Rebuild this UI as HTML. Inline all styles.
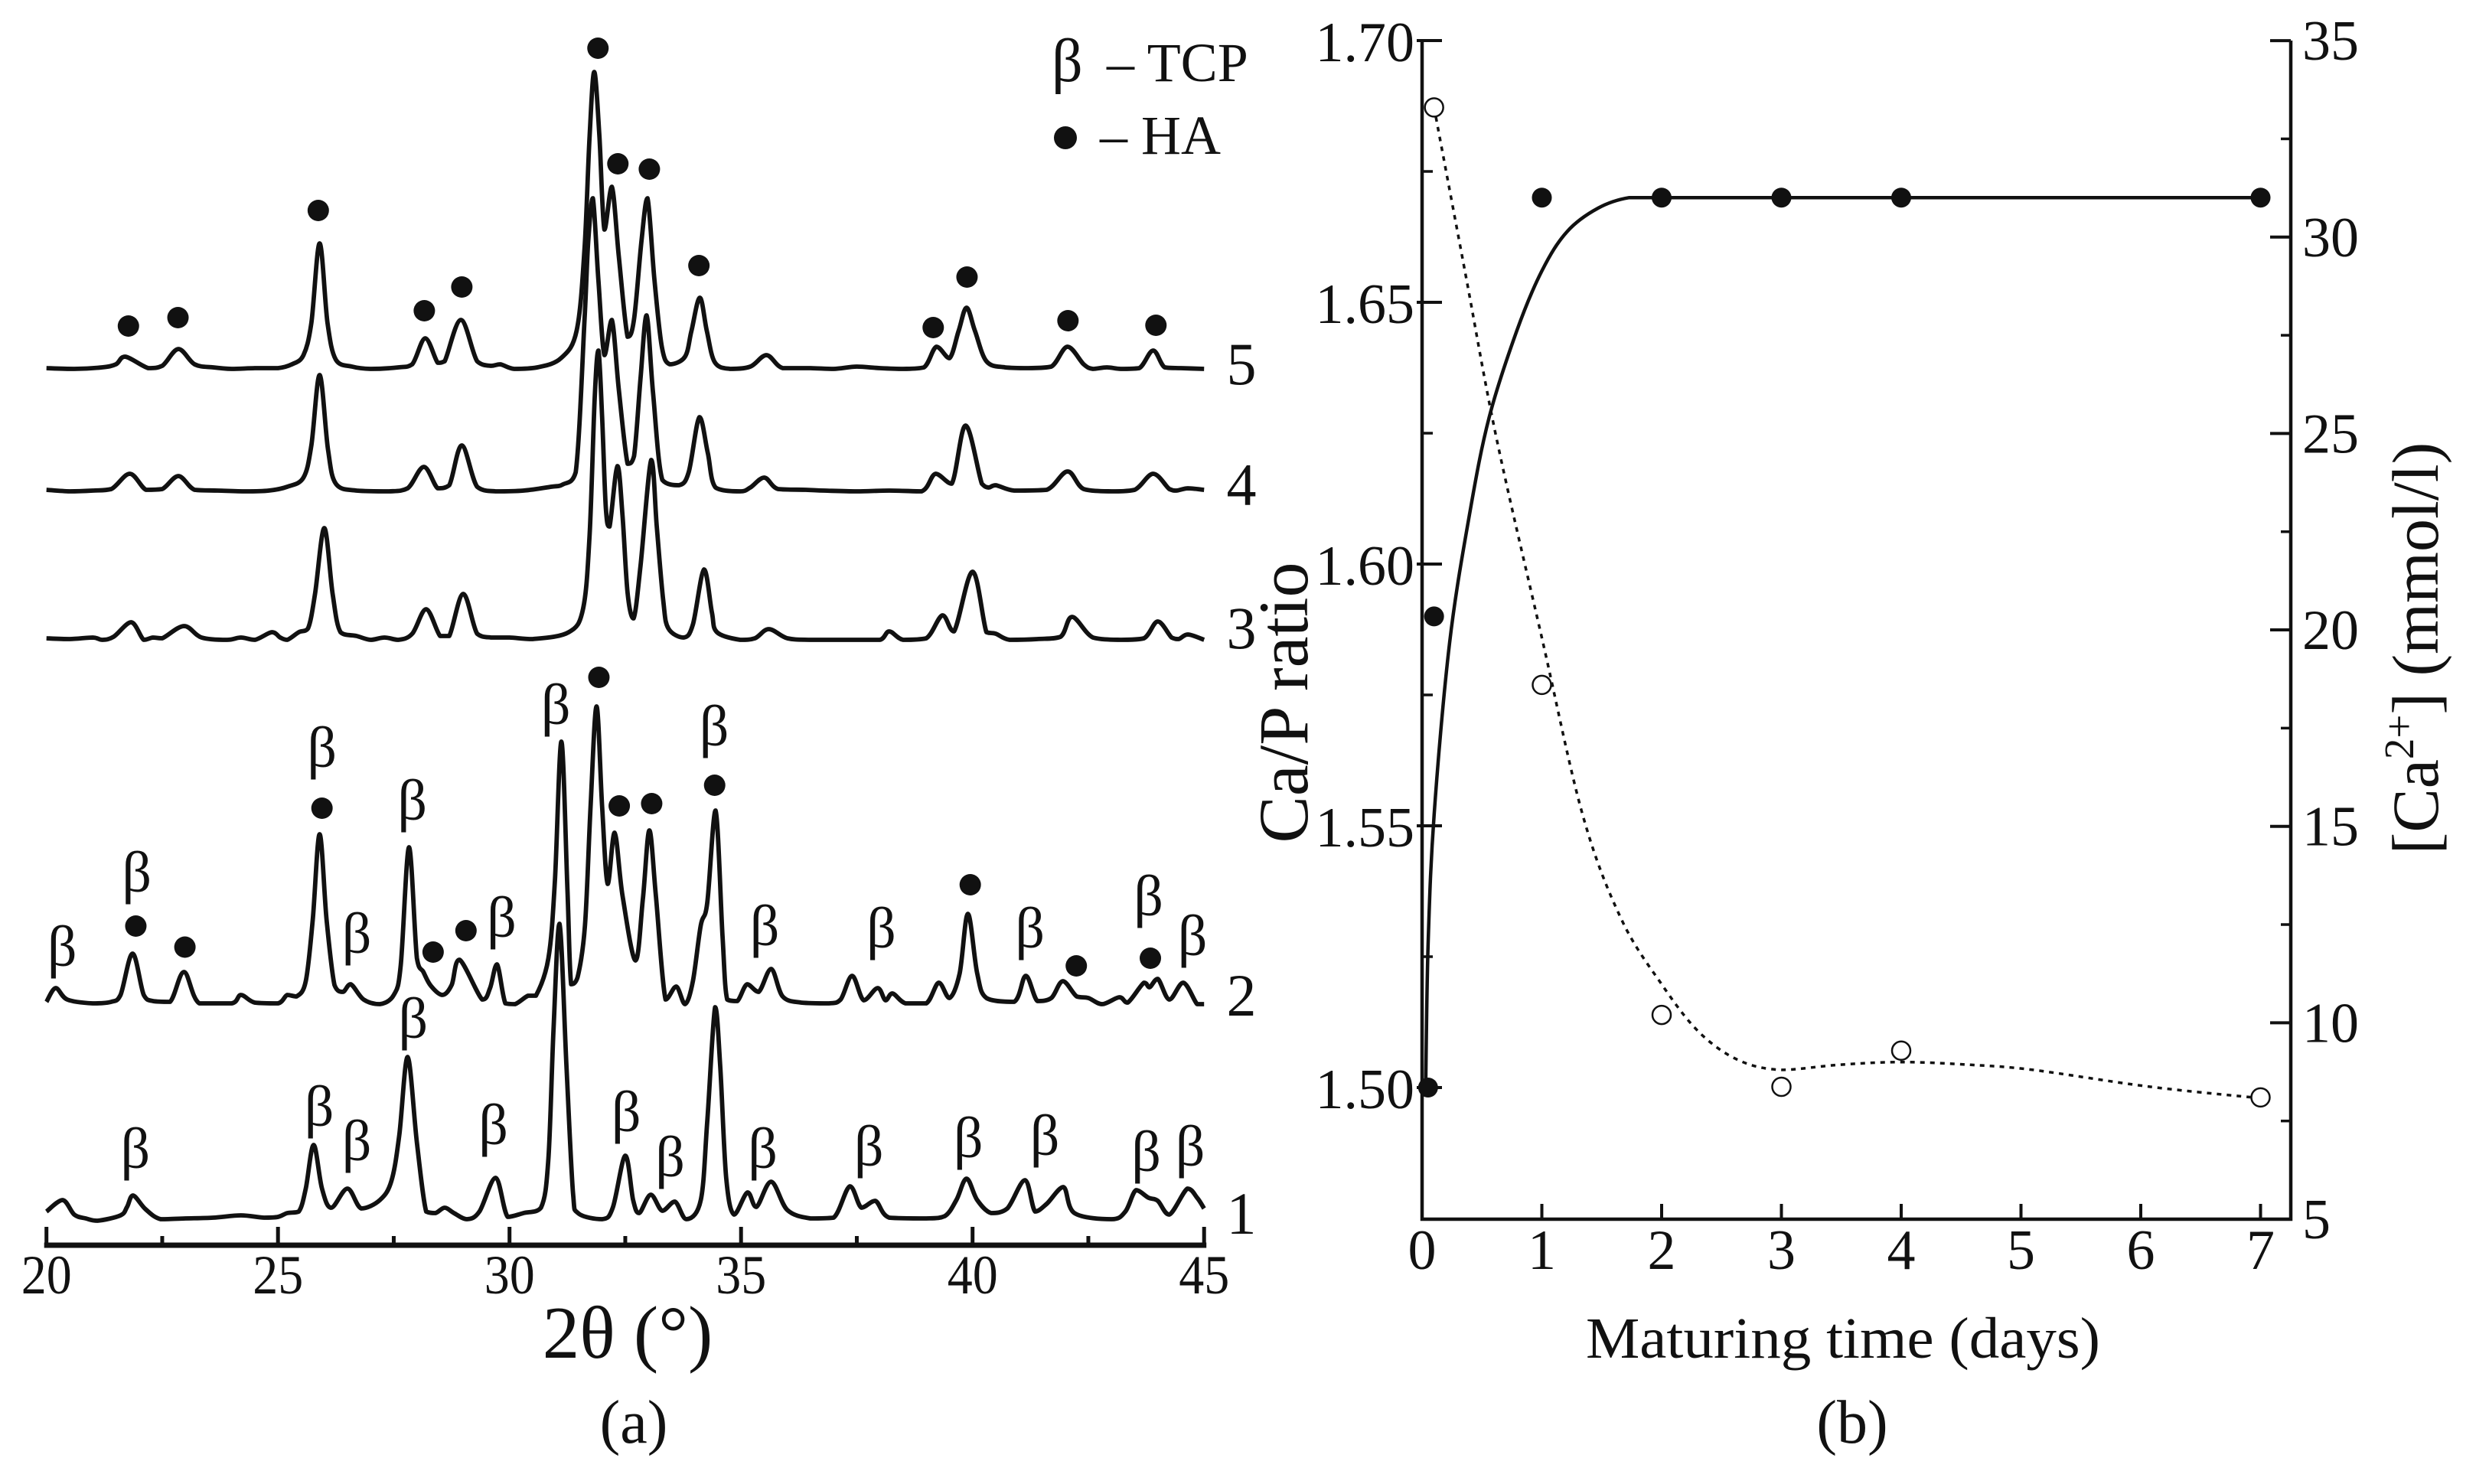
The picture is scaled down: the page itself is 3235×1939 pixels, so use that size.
<!DOCTYPE html>
<html lang="en">
<head>
<meta charset="utf-8">
<title>XRD patterns and Ca/P ratio versus maturing time</title>
<style>
html,body{margin:0;padding:0;background:#fff;width:3235px;height:1939px;overflow:hidden}
svg{display:block}
text{font-family:"Liberation Serif",serif;fill:#111}
</style>
</head>
<body>
<svg id="figure" xmlns="http://www.w3.org/2000/svg" width="3235" height="1939" viewBox="0 0 3235 1939">
  <rect width="3235" height="1939" fill="#fff"/>
  <g id="panelA"></g>
  <g id="panelB"></g>

  <text x="820" y="1774" font-size="97" text-anchor="middle">2θ (°)</text>
  <text x="828" y="1885" font-size="80" text-anchor="middle">(a)</text>
  <text x="2420" y="1885" font-size="80" text-anchor="middle">(b)</text>

  <text x="1374" y="106" font-size="80">β</text>
  <text x="1446" y="106" font-size="72">– TCP</text>
  <circle cx="1392" cy="180" r="15" fill="#111"/>
  <text x="1437" y="201" font-size="72">– HA</text>

  <text x="2408" y="1774" font-size="76" text-anchor="middle" textLength="672" lengthAdjust="spacingAndGlyphs">Maturing time (days)</text>
  <text transform="translate(1708,918) rotate(-90)" font-size="92" text-anchor="middle">Ca/P ratio</text>
  <text transform="translate(3185,847) rotate(-90)" font-size="86" text-anchor="middle">[Ca<tspan font-size="55" dy="-32">2+</tspan><tspan dy="32">] (mmol/l)</tspan></text>
</svg>
<script>
// ---------- Panel (a) data: 2-theta and intensity above each pattern's baseline ----------
const theta1 = [20,20.35,20.6,20.85,21.1,21.6,21.74,21.87,22.14,22.47,23,23.6,24.2,24.7,25,25.2,25.45,25.6,25.77,25.95,26.15,26.5,26.8,27.2,27.45,27.62,27.8,28,28.2,28.4,28.6,28.8,29.08,29.35,29.7,29.96,30.3,30.68,30.84,30.95,31.08,31.23,31.37,31.48,32,32.23,32.5,32.67,32.8,33.05,33.3,33.57,33.82,34.13,34.27,34.44,34.55,34.68,34.85,35.14,35.33,35.65,36,36.5,37,37.35,37.6,37.9,38.2,39,39.4,39.65,39.87,40.1,40.4,40.75,41.13,41.35,41.6,41.96,42.2,43,43.3,43.53,43.8,44,44.25,44.64,44.85,45];
const intensity1 = [10,25,6,1,-2,5,16,31,13,0,1,2,5,2,3,8,10,40,97,40,15,40,14,25,50,110,212,100,10,8,15,8,0,10,54,3,8,15,79,248,386,200,35,8,0,15,83,25,8,32,11,23,0,25,127,277,200,54,6,35,16,49,12,1,2,43,15,24,2,1,4,25,53,25,8,14,51,10,20,42,8,0,10,38,28,24,6,40,28,14];

const theta2 = [20,20.2,20.45,21,21.4,21.6,21.86,22.1,22.3,22.67,22.97,23.3,24,24.2,24.5,25,25.2,25.4,25.6,25.75,25.9,26.05,26.22,26.4,26.57,26.85,27.2,27.5,27.65,27.83,28,28.14,28.3,28.55,28.75,28.92,29.41,29.58,29.73,29.91,30.12,30.4,30.57,30.84,30.98,31.12,31.25,31.33,31.47,31.63,31.75,31.88,32,32.12,32.27,32.44,32.72,32.88,33.02,33.16,33.37,33.6,33.79,33.96,34.13,34.27,34.45,34.6,34.7,34.92,35.13,35.38,35.65,35.9,36.3,36.9,37.15,37.4,37.65,37.95,38.12,38.27,38.55,39,39.27,39.5,39.72,39.9,40.1,40.3,40.9,41.15,41.4,41.7,41.95,42.25,42.5,42.8,43.17,43.35,43.7,43.82,44,44.25,44.55,44.85,45];
const intensity2 = [3,21,6,1,3,12,66,12,4,3,42,1,1,12,2,1,12,10,30,110,222,110,25,16,26,6,0,12,50,205,60,42,24,12,25,58,6,21,52,1,0,11,11,60,161,343,152,26,35,103,258,389,258,157,224,142,57,137,227,142,6,23,0,30,103,132,253,89,6,4,26,16,46,10,2,1,6,37,5,21,5,14,1,1,28,8,40,118,40,8,3,37,4,8,30,10,8,0,9,2,28,22,33,6,28,0,0];

const theta3 = [20,20.5,21,21.2,21.45,21.83,22.1,22.3,22.5,22.97,23.35,23.9,24.2,24.5,24.87,25.05,25.2,25.45,25.65,25.8,26,26.18,26.35,26.7,27,27.3,27.6,27.9,28.2,28.5,28.7,29,29.3,29.6,30,30.5,31.28,31.59,31.73,31.84,31.92,32,32.08,32.16,32.33,32.44,32.55,32.68,32.83,33.06,33.18,33.32,33.43,33.76,33.96,34.2,34.37,34.48,34.98,35.3,35.6,36,36.5,37.5,38,38.2,38.5,39,39.35,39.6,40,40.3,40.5,40.8,41.4,41.9,42.15,42.6,43.2,43.7,44,44.3,44.45,44.65,45];
const intensity3 = [2,1,3,0,4,23,0,3,2,18,3,0,3,0,10,3,0,10,15,60,146,60,10,5,0,3,0,8,40,5,5,60,8,3,3,1,10,41,138,316,378,291,173,148,227,163,61,28,97,235,148,51,15,3,20,92,36,10,0,2,14,2,0,0,0,11,0,2,32,11,89,10,8,0,1,4,30,3,0,2,24,3,1,7,0];

const theta4 = [20,20.5,21,21.4,21.8,22.15,22.5,22.85,23.2,23.7,24.3,24.8,25.2,25.55,25.72,25.9,26.08,26.25,26.7,27.4,27.8,28.15,28.45,28.7,28.97,29.3,29.7,30.3,30.9,31.15,31.43,31.62,31.7,31.8,31.92,32.05,32.21,32.36,32.55,32.69,32.83,32.96,33.1,33.3,33.66,33.87,34.1,34.28,34.45,34.98,35.2,35.5,35.8,36.4,36.8,37.5,38.2,38.9,39.2,39.55,39.85,40.2,40.35,40.5,40.9,41.6,42.05,42.4,43,43.5,43.9,44.25,44.4,44.65,45];
const intensity4 = [2,0,1,3,23,2,3,20,2,1,0,1,6,18,60,152,55,10,1,0,4,32,4,8,60,6,0,1,6,9,25,224,326,383,275,178,224,133,36,46,148,230,128,15,8,25,97,51,5,0,5,18,3,2,1,0,1,0,23,10,86,10,5,8,1,2,26,3,0,2,23,3,1,4,2];

const theta5 = [20,20.6,21.2,21.5,21.7,22.2,22.5,22.85,23.2,23.6,24,24.5,25,25.3,25.55,25.72,25.9,26.07,26.25,26.6,27,27.6,27.9,28.18,28.45,28.6,28.95,29.3,29.6,29.8,30.1,30.6,31.11,31.45,31.62,31.73,31.83,31.94,32.05,32.21,32.36,32.55,32.69,32.85,32.98,33.13,33.29,33.46,33.79,33.93,34.11,34.26,34.43,34.76,35.2,35.55,35.9,36.5,37,37.5,38,38.5,38.95,39.22,39.5,39.7,39.87,40.05,40.3,40.7,41.2,41.7,42.05,42.4,42.6,42.9,43.2,43.6,43.9,44.15,44.5,45];
const intensity5 = [1,0,2,6,16,1,4,26,6,2,0,1,1,6,18,60,164,60,12,3,0,2,6,40,8,10,64,10,4,6,0,2,14,50,157,305,388,305,182,238,147,42,65,167,223,116,29,6,16,50,93,50,9,0,3,18,1,1,0,3,1,0,2,29,14,50,80,50,10,2,1,3,29,6,0,2,0,1,24,2,1,0];

const patternNames = ['1','2','3','4','5'];

// HA dots and beta labels: 2-theta and height above the pattern's baseline
const dotTheta5 = [21.77,22.84,25.87,28.16,28.97,31.91,32.34,33.02,34.09,39.15,39.88,42.06,43.96];
const dotLevel5 = [56,67,207,76,107,419,268,261,135,54,120,63,57];
const dotTheta2 = [21.93,22.99,25.95,28.35,29.06,31.93,32.37,33.07,34.43,39.95,42.24,43.84];
const dotLevel2 = [102,74.5,256,68,96,427,259,262,286,156,50,60];
const betaTheta2 = [20.34,21.95,25.95,26.7,27.9,29.83,31.0,34.42,35.51,38.03,41.24,43.8,44.75];
const betaLevel2 = [70,167,330,87,261,108,386,358,97,94,94,136,84];
const betaTheta1 = [21.92,25.89,26.7,27.92,29.65,32.52,33.47,35.47,37.76,39.91,41.56,43.75,44.7];
const betaLevel1 = [87,142,97,257,118,135,76,87,90,101,104,83,90];

const thetaMajorTicks = [20,25,30,35,40,45];
const thetaMinorTicks = [22.5,27.5,32.5,37.5,42.5];

// ---------- Panel (b) data ----------
const dayTicks = [0,1,2,3,4,5,6,7];
const ratioMajorTicks = ['1.50','1.55','1.60','1.65','1.70'];
const ratioMinorTicks = [1.525,1.575,1.625,1.675];
const caMajorTicks = [5,10,15,20,25,30,35];
const caMinorTicks = [7.5,12.5,17.5,22.5,27.5,32.5];

const ratioDays = [0.05,0.1,1,2,3,4,7];
const ratioValues = [1.50,1.59,1.67,1.67,1.67,1.67,1.67];
const caDays = [0.1,1,2,3,4,7];
const caValues = [33.3,18.6,10.2,8.37,9.29,8.1];

const ratioCurveDays = [0.03,0.05,0.1,0.23,0.4,0.56,0.79,1,1.21,1.47,1.73,2,7];
const ratioCurveValues = [1.4998,1.527,1.552,1.585,1.61,1.628,1.6445,1.656,1.6635,1.668,1.67,1.67,1.67];
const caCurveDays = [0.1,0.36,0.62,1,1.34,1.66,2,2.31,2.64,3,3.48,4,4.58,5.1,6.08,7];
const caCurveValues = [33.3,29.1,24.9,19.8,15.3,12.66,10.98,9.77,9.05,8.8,8.93,9.0,8.93,8.8,8.37,8.08];

// ---------- Axis functions ----------
const NS = 'http://www.w3.org/2000/svg';
const INK = '#111';
const xTheta = t => 60.7 + (t - 20) * 60.5;
const baselines = {1:1593, 2:1312, 3:836, 4:642, 5:482};
const yPattern = (p, h) => baselines[p] - h;
const xDay = d => 1858 + d * 156.5;
const yRatio = r => 53 + (1.70 - r) / 0.05 * 342;
const yCa = c => 1593 - (c - 5) * 51.33;

function make(tag, parent, attrs) {
  const el = document.createElementNS(NS, tag);
  for (const k in attrs) el.setAttribute(k, attrs[k]);
  parent.appendChild(el);
  return el;
}
function clamp(v, a, b) {
  return Math.min(Math.max(a, b), Math.max(Math.min(a, b), v));
}
function smoothPath(pts) {
  let d = 'M' + pts[0][0].toFixed(1) + ' ' + pts[0][1].toFixed(1);
  for (let i = 0; i < pts.length - 1; i++) {
    const p0 = pts[Math.max(i - 1, 0)], p1 = pts[i], p2 = pts[i + 1], p3 = pts[Math.min(i + 2, pts.length - 1)];
    const c1x = clamp(p1[0] + (p2[0] - p0[0]) / 6, p1[0], p2[0]);
    const c1y = clamp(p1[1] + (p2[1] - p0[1]) / 6, p1[1], p2[1]);
    const c2x = clamp(p2[0] - (p3[0] - p1[0]) / 6, p1[0], p2[0]);
    const c2y = clamp(p2[1] - (p3[1] - p1[1]) / 6, p1[1], p2[1]);
    d += 'C' + c1x.toFixed(1) + ' ' + c1y.toFixed(1) + ' ' + c2x.toFixed(1) + ' ' + c2y.toFixed(1) + ' ' + p2[0].toFixed(1) + ' ' + p2[1].toFixed(1);
  }
  return d;
}

const A = document.getElementById('panelA');
const B = document.getElementById('panelB');

// ---------- Panel (a) drawing ----------
const allThetas = [theta1, theta2, theta3, theta4, theta5];
const allIntensities = [intensity1, intensity2, intensity3, intensity4, intensity5];
const numberY = [1586, 1301, 821, 634, 476];
patternNames.forEach((name, i) => {
  const p = i + 1;
  const pts = allThetas[i].map((t, j) => [xTheta(t), yPattern(p, allIntensities[i][j])]);
  const path = make('path', A, {d: smoothPath(pts), fill: 'none', stroke: INK, 'stroke-width': 5.8, 'stroke-linejoin': 'round'});
  
  
  const label = make('text', A, {x: 1622, y: numberY[i] + 26, 'font-size': 78, 'text-anchor': 'middle'});
  label.textContent = name;
  
  
});

function drawDots(thetas, levels, p) {
  thetas.forEach((t, i) => {
    const dot = make('circle', A, {cx: xTheta(t), cy: yPattern(p, levels[i]), r: 14, fill: INK});
    
    
  });
}
drawDots(dotTheta5, dotLevel5, 5);
drawDots(dotTheta2, dotLevel2, 2);

function drawBetas(thetas, levels, p) {
  thetas.forEach((t, i) => {
    const b = make('text', A, {x: xTheta(t), y: yPattern(p, levels[i]) + 20, 'font-size': 76, 'text-anchor': 'middle'});
    b.textContent = 'β';
    
    
  });
}
drawBetas(betaTheta2, betaLevel2, 2);
drawBetas(betaTheta1, betaLevel1, 1);

const axisA = make('line', A, {x1: xTheta(20) - 3, x2: xTheta(45) + 3, y1: 1627, y2: 1627, stroke: INK, 'stroke-width': 7});


thetaMajorTicks.forEach(t => {
  const tick = make('line', A, {x1: xTheta(t), x2: xTheta(t), y1: 1603, y2: 1627, stroke: INK, 'stroke-width': 5});
  
  
  const lab = make('text', A, {x: xTheta(t), y: 1690, 'font-size': 72, 'text-anchor': 'middle', textLength: 66, lengthAdjust: 'spacingAndGlyphs'});
  lab.textContent = t;
  
  
});
thetaMinorTicks.forEach(t => {
  const tick = make('line', A, {x1: xTheta(t), x2: xTheta(t), y1: 1615, y2: 1627, stroke: INK, 'stroke-width': 5});
  
  
});

// ---------- Panel (b) drawing ----------
const frame = make('path', B, {d: 'M1858 53V1593H2993V53', fill: 'none', stroke: INK, 'stroke-width': 4.5});



dayTicks.forEach(d => {
  if (d > 0) {
    const tick = make('line', B, {x1: xDay(d), x2: xDay(d), y1: 1573, y2: 1593, stroke: INK, 'stroke-width': 4});
    
    
  }
  const lab = make('text', B, {x: xDay(d), y: 1658, 'font-size': 74, 'text-anchor': 'middle'});
  lab.textContent = d;
  
  
});
ratioMajorTicks.forEach(s => {
  const y = yRatio(parseFloat(s));
  const tick = make('line', B, {x1: 1851, x2: 1884, y1: y, y2: y, stroke: INK, 'stroke-width': 4});
  
  
  const lab = make('text', B, {x: 1848, y: y + 27, 'font-size': 74, 'text-anchor': 'end'});
  lab.textContent = s;
  
  
});
ratioMinorTicks.forEach(r => {
  const y = yRatio(r);
  const tick = make('line', B, {x1: 1858, x2: 1872, y1: y, y2: y, stroke: INK, 'stroke-width': 3.5});
  
  
});
caMajorTicks.forEach(c => {
  const y = yCa(c);
  const tick = make('line', B, {x1: 2966, x2: 2993, y1: y, y2: y, stroke: INK, 'stroke-width': 4});
  
  
  const lab = make('text', B, {x: 3008, y: y + 25, 'font-size': 74});
  lab.textContent = c;
  
  
});
caMinorTicks.forEach(c => {
  const y = yCa(c);
  const tick = make('line', B, {x1: 2980, x2: 2993, y1: y, y2: y, stroke: INK, 'stroke-width': 3.5});
  
  
});

const ratioCurve = make('path', B, {d: smoothPath(ratioCurveDays.map((d, i) => [xDay(d), yRatio(ratioCurveValues[i])])), fill: 'none', stroke: INK, 'stroke-width': 4.5});


const caCurve = make('path', B, {d: smoothPath(caCurveDays.map((d, i) => [xDay(d), yCa(caCurveValues[i])])), fill: 'none', stroke: INK, 'stroke-width': 3.5, 'stroke-dasharray': '6 7'});



ratioDays.forEach((d, i) => {
  const dot = make('circle', B, {cx: xDay(d), cy: yRatio(ratioValues[i]), r: 13, fill: INK});
  
  
});
caDays.forEach((d, i) => {
  const dot = make('circle', B, {cx: xDay(d), cy: yCa(caValues[i]), r: 12, fill: '#fff', stroke: INK, 'stroke-width': 2.5});
  
  
});
</script>
</body>
</html>
